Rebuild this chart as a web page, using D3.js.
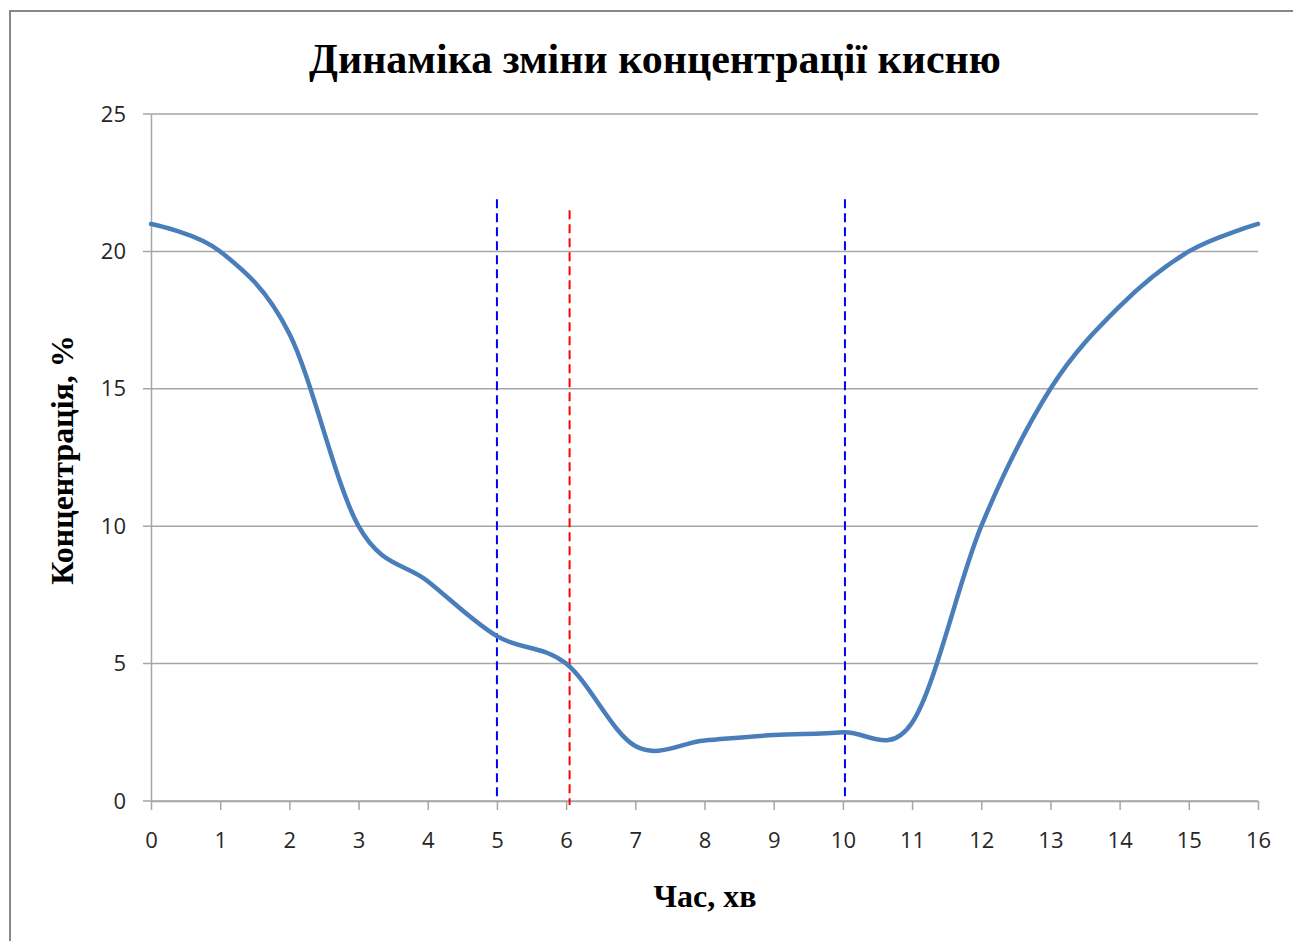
<!DOCTYPE html>
<html>
<head>
<meta charset="utf-8">
<script src="https://cdn.jsdelivr.net/npm/d3@7"></script>
<style>
  html, body { margin: 0; padding: 0; background: #fff; }
  svg { display: block; }
</style>
</head>
<body>
<svg id="chart" width="1293" height="941"></svg>
<script>
// Oxygen concentration over time (minutes)
const timeMin = [0, 1, 2, 3, 4, 5, 6, 7, 8, 9, 10, 11, 12, 13, 14, 15, 16];
const concentration = [21, 20, 17, 10, 8, 6, 5, 2, 2.2, 2.4, 2.5, 2.85, 10, 15, 18, 20, 21];

// Tick labels
const xTicks = d3.range(0, 17);
const yTicks = [0, 5, 10, 15, 20, 25];

// Vertical phase markers
const blueMarkers = [5, 10.03];
const blueMarkerTop = 21.9;
const redMarkers = [6.05];
const redMarkerTop = 21.5;
const redMarkerBottom = -0.15;

const svg = d3.select("#chart");

// chart frame
svg.append("rect")
  .attr("x", 10).attr("y", 11)
  .attr("width", 1300).attr("height", 950)
  .attr("fill", "#fff")
  .attr("stroke", "#878787")
  .attr("stroke-width", 2);

const plot = { left: 151, right: 1258, top: 114, bottom: 801 };

const x = d3.scaleLinear().domain([0, 16]).range([plot.left, plot.right]);
const y = d3.scaleLinear().domain([0, 25]).range([plot.bottom, plot.top]);

const tickFont = "'Open Sans', 'Noto Sans', sans-serif";

// horizontal gridlines (with the small outward tick on the left)
svg.append("g")
  .selectAll("line")
  .data(yTicks)
  .join("line")
  .attr("x1", plot.left - 8)
  .attr("x2", plot.right)
  .attr("y1", d => y(d))
  .attr("y2", d => y(d))
  .attr("stroke", "#a6a6a6")
  .attr("stroke-width", 1.5);

// y axis
const yAxis = svg.append("g")
  .attr("transform", `translate(${plot.left},0)`)
  .call(d3.axisLeft(y).tickValues(yTicks).tickSize(0).tickPadding(25));
yAxis.select(".domain").attr("stroke", "#a6a6a6").attr("stroke-width", 1.5);
yAxis.selectAll("text")
  .attr("font-family", tickFont)
  .attr("font-size", 22)
  .attr("fill", "#262626");

// x axis
const xAxis = svg.append("g")
  .attr("transform", `translate(0,${plot.bottom})`)
  .call(d3.axisBottom(x).tickValues(xTicks).tickSize(9).tickPadding(22).tickSizeOuter(0));
xAxis.select(".domain").attr("stroke", "#a6a6a6").attr("stroke-width", 1.5);
xAxis.selectAll(".tick line").attr("stroke", "#a6a6a6").attr("stroke-width", 1.5);
xAxis.selectAll("text")
  .attr("font-family", tickFont)
  .attr("font-size", 22)
  .attr("fill", "#262626");

// dashed phase markers
svg.append("g")
  .selectAll("line")
  .data(blueMarkers)
  .join("line")
  .attr("x1", d => x(d)).attr("x2", d => x(d))
  .attr("y1", y(blueMarkerTop)).attr("y2", y(0))
  .attr("stroke", "#0000ff")
  .attr("stroke-width", 2)
  .attr("stroke-dasharray", "9,5");

svg.append("g")
  .selectAll("line")
  .data(redMarkers)
  .join("line")
  .attr("x1", d => x(d)).attr("x2", d => x(d))
  .attr("y1", y(redMarkerTop)).attr("y2", y(redMarkerBottom))
  .attr("stroke", "#ff0000")
  .attr("stroke-width", 2)
  .attr("stroke-dasharray", "9,5");

// smoothed concentration curve
const line = d3.line()
  .x((d, i) => x(timeMin[i]))
  .y(d => y(d))
  .curve(d3.curveCatmullRom.alpha(0));

svg.append("path")
  .datum(concentration)
  .attr("d", line)
  .attr("fill", "none")
  .attr("stroke", "#4a7ebb")
  .attr("stroke-width", 4.5)
  .attr("stroke-linejoin", "round")
  .attr("stroke-linecap", "round");

// title and axis titles
const serif = "'Liberation Serif', 'DejaVu Serif', serif";

svg.append("text")
  .attr("x", 655).attr("y", 73)
  .attr("text-anchor", "middle")
  .attr("font-family", serif)
  .attr("font-weight", "bold")
  .attr("font-size", 42)
  .attr("fill", "#000")
  .text("Динаміка зміни концентрації кисню");

svg.append("text")
  .attr("x", 705).attr("y", 907)
  .attr("text-anchor", "middle")
  .attr("font-family", serif)
  .attr("font-weight", "bold")
  .attr("font-size", 32)
  .attr("fill", "#000")
  .text("Час, хв");

svg.append("text")
  .attr("transform", "translate(73,460) rotate(-90)")
  .attr("text-anchor", "middle")
  .attr("font-family", serif)
  .attr("font-weight", "bold")
  .attr("font-size", 32)
  .attr("fill", "#000")
  .text("Концентрація, %");
</script>
</body>
</html>
